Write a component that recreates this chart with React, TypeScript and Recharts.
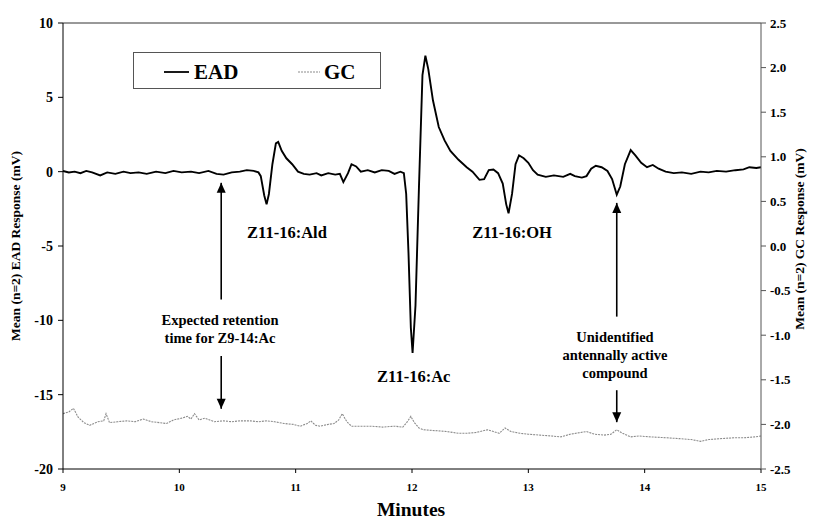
import React from 'react';
import { LineChart, Line, XAxis, YAxis, ReferenceLine, ReferenceDot, Label } from 'recharts';

const SERIF = '"Liberation Serif", "Times New Roman", serif';

// EAD trace (minutes, mV)
const eadMinutes = [
  9.0, 9.05, 9.1, 9.15, 9.2, 9.25, 9.32, 9.38, 9.45, 9.52, 9.58, 9.65, 9.72, 9.8, 9.88, 9.95,
  10.02, 10.1, 10.17, 10.25, 10.32, 10.38, 10.45, 10.52, 10.58, 10.64, 10.68, 10.7, 10.73, 10.75,
  10.77, 10.8, 10.83, 10.85, 10.88, 10.92, 10.97, 11.02, 11.07, 11.12, 11.18, 11.22, 11.28, 11.34,
  11.38, 11.41, 11.45, 11.48, 11.52, 11.56, 11.62, 11.68, 11.74, 11.8, 11.85, 11.9, 11.93, 11.95,
  11.97, 11.99, 12.005, 12.03, 12.06, 12.09, 12.115, 12.14, 12.18, 12.23, 12.28, 12.33, 12.4, 12.47,
  12.52, 12.58, 12.62, 12.66, 12.7, 12.74, 12.78, 12.81, 12.83, 12.86, 12.89, 12.92, 12.96, 13.0,
  13.04, 13.08, 13.15, 13.22, 13.3, 13.36, 13.4, 13.46, 13.5, 13.54, 13.58, 13.63, 13.68, 13.72,
  13.76, 13.79, 13.83, 13.88, 13.92, 13.97, 14.02, 14.07, 14.12, 14.18, 14.25, 14.32, 14.4, 14.48,
  14.55, 14.62, 14.7, 14.78, 14.85, 14.9, 14.96, 15.0,
];
const eadResponse = [
  0.05, -0.05, 0.0, -0.1, 0.05, -0.05, -0.25, -0.05, -0.15, 0.0, -0.1, -0.05, -0.15, 0.0, -0.1, 0.05,
  -0.05, 0.0, -0.1, 0.05, -0.15, -0.2, -0.05, 0.0, 0.1, 0.05, -0.05, -0.3, -1.6, -2.2,
  -1.5, 0.5, 1.9, 2.0, 1.4, 0.9, 0.5, 0.0, -0.15, -0.2, -0.1, -0.25, -0.1, -0.2,
  -0.15, -0.7, -0.1, 0.5, 0.35, 0.0, 0.1, -0.05, 0.1, 0.05, -0.15, 0.0, -0.1, -1.5,
  -5.5, -10.5, -12.2, -9.0, -1.0, 6.5, 7.8, 6.9, 4.8, 3.0, 2.1, 1.4, 0.8, 0.3,
  0.0, -0.55, -0.5, 0.1, 0.15, -0.1, -0.8, -2.2, -2.8, -1.5, 0.5, 1.1, 0.9, 0.6,
  0.1, -0.2, -0.35, -0.25, -0.35, -0.15, -0.3, -0.4, -0.3, 0.2, 0.4, 0.3, 0.05, -0.5,
  -1.55, -1.0, 0.5, 1.45, 1.1, 0.6, 0.3, 0.45, 0.2, 0.0, -0.1, -0.05, -0.15, 0.0,
  -0.05, 0.05, 0.0, 0.1, 0.15, 0.3, 0.25, 0.3,
];

// GC trace (minutes, mV)
const gcMinutes = [
  9.0, 9.05, 9.09, 9.13, 9.18, 9.23, 9.3, 9.35, 9.37, 9.4, 9.47, 9.55, 9.62, 9.69, 9.76, 9.83,
  9.89, 9.95, 10.02, 10.07, 10.1, 10.13, 10.17, 10.22, 10.3, 10.38, 10.45, 10.52, 10.61, 10.68,
  10.75, 10.82, 10.9, 10.98, 11.04, 11.1, 11.13, 11.17, 11.21, 11.28, 11.33, 11.37, 11.4, 11.44,
  11.48, 11.55, 11.65, 11.75, 11.85, 11.92, 11.96, 11.99, 12.02, 12.06, 12.1, 12.2, 12.3, 12.4,
  12.47, 12.55, 12.65, 12.7, 12.75, 12.8, 12.85, 12.93, 13.0, 13.1, 13.2, 13.28, 13.36, 13.45,
  13.5, 13.57, 13.65, 13.71, 13.76, 13.81, 13.88, 13.95, 14.05, 14.19, 14.3, 14.4, 14.48, 14.55,
  14.65, 14.77, 14.85, 14.95, 15.0,
];
const gcResponse = [
  -1.88, -1.86, -1.82, -1.92, -1.98, -2.01, -1.97, -1.96, -1.88, -1.98, -1.97, -1.96, -1.97, -1.94, -1.97, -1.98,
  -1.99, -1.95, -1.93, -1.91, -1.94, -1.88, -1.95, -1.93, -1.97, -1.96, -1.97, -1.96, -1.96, -1.97,
  -1.96, -1.97, -1.99, -2.0, -2.02, -1.99, -1.96, -2.01, -2.02, -2.0, -1.99, -1.95, -1.88, -1.97,
  -2.02, -2.02, -2.02, -2.03, -2.02, -2.03, -1.97, -1.91, -1.98, -2.04, -2.06, -2.07, -2.08, -2.1,
  -2.1, -2.09, -2.06, -2.08, -2.1, -2.04, -2.08, -2.1, -2.11, -2.12, -2.13, -2.14, -2.11, -2.09,
  -2.08, -2.11, -2.12, -2.11, -2.06, -2.1, -2.14, -2.13, -2.14, -2.15, -2.16, -2.17, -2.19, -2.17,
  -2.16, -2.15, -2.15, -2.14, -2.13,
];

const minuteTicks = [9, 10, 11, 12, 13, 14, 15];
const eadTicks = [-20, -15, -10, -5, 0, 5, 10];
const gcTicks = [-2.5, -2, -1.5, -1, -0.5, 0, 0.5, 1, 1.5, 2, 2.5];

// annotation texts, placed in (minutes, EAD mV)
const noteMinutes = [10.925, 12.86, 12.015, 10.35, 13.745];
const noteLevels = [-4.1, -4.1, -13.75, -10.6, -12.33];
const noteTexts = [
  ['Z11-16:Ald'],
  ['Z11-16:OH'],
  ['Z11-16:Ac'],
  ['Expected retention', 'time for Z9-14:Ac'],
  ['Unidentified', 'antennally active', 'compound'],
];
const noteSizes = [16.5, 16.5, 16.5, 14.5, 14.5];

// arrows: tail -> tip (EAD mV)
const arrowMinutes = [10.36, 10.36, 13.76, 13.76];
const arrowTails = [-8.6, -12.4, -9.75, -14.7];
const arrowTips = [-0.75, -15.95, -2.1, -16.85];

const eadData = eadMinutes.map((t, i) => ({ t, ead: eadResponse[i] }));
const gcData = gcMinutes.map((t, i) => ({ t, gc: gcResponse[i] }));

const tickStyle = { fontFamily: SERIF, fontWeight: 700, fill: '#000' };

const arrowHead = (up: boolean) => (p: any) => {
  const { cx, cy } = p;
  const d = up
    ? `M${cx},${cy} L${cx - 4.5},${cy + 10} L${cx + 4.5},${cy + 10} Z`
    : `M${cx},${cy} L${cx - 4.5},${cy - 10} L${cx + 4.5},${cy - 10} Z`;
  return <path d={d} fill="#000" />;
};

const noteShape = (lines: string[], size: number) => (p: any) => {
  const { cx, cy } = p;
  const lh = 18;
  const y0 = cy - ((lines.length - 1) * lh) / 2;
  return (
    <text textAnchor="middle" fontFamily={SERIF} fontWeight={700} fontSize={size} fill="#000">
      {lines.map((s, i) => (
        <tspan key={i} x={cx} y={y0 + i * lh} dominantBaseline="central">{s}</tspan>
      ))}
    </text>
  );
};

export default function App() {
  return (
    <div style={{ position: 'absolute', left: 0, top: 0, width: 814, height: 520, background: '#fff' }}>
      <LineChart width={814} height={520} margin={{ top: 23, right: 0, bottom: 0, left: 0 }}>
        <XAxis
          type="number"
          dataKey="t"
          domain={[9, 15]}
          ticks={minuteTicks}
          allowDataOverflow
          height={51}
          tick={{ ...tickStyle, fontSize: 11 }}
          tickSize={4}
          tickMargin={10}
          stroke="#000"
        >
          <Label
            content={() => (
              <text x={411} y={509} textAnchor="middle" dominantBaseline="central"
                fontFamily={SERIF} fontWeight={700} fontSize={19.5} fill="#000">Minutes</text>
            )}
          />
        </XAxis>
        <YAxis
          yAxisId="left"
          domain={[-20, 10]}
          ticks={eadTicks}
          width={63}
          tick={{ ...tickStyle, fontSize: 14 }}
          tickSize={5}
          tickMargin={5}
          stroke="#000"
        >
          <Label
            content={(p: any) => {
              const vb = p.viewBox;
              const x = vb.x + 15;
              const y = vb.y + vb.height / 2;
              return (
                <text x={x} y={y} transform={`rotate(-90 ${x} ${y})`} textAnchor="middle" dominantBaseline="central"
                  fontFamily={SERIF} fontWeight={700} fontSize={13.5} fill="#000">Mean (n=2) EAD Response (mV)</text>
              );
            }}
          />
        </YAxis>
        <YAxis
          yAxisId="right"
          orientation="right"
          domain={[-2.5, 2.5]}
          ticks={gcTicks}
          width={53}
          tick={{ ...tickStyle, fontSize: 13 }}
          tickFormatter={(v: number) => v.toFixed(1)}
          tickSize={5}
          tickMargin={4}
          stroke="#555"
        >
          <Label
            content={(p: any) => {
              const vb = p.viewBox;
              const x = vb.x + 38;
              const y = vb.y + vb.height / 2 - 7;
              return (
                <text x={x} y={y} transform={`rotate(-90 ${x} ${y})`} textAnchor="middle" dominantBaseline="central"
                  fontFamily={SERIF} fontWeight={700} fontSize={13.5} fill="#000">Mean (n=2) GC Response (mV)</text>
              );
            }}
          />
        </YAxis>

        <ReferenceLine yAxisId="left" y={10} stroke="#333" strokeWidth={1} />

        <Line
          yAxisId="right"
          data={gcData}
          dataKey="gc"
          type="linear"
          stroke="#8c8c8c"
          strokeWidth={1.1}
          strokeDasharray="2 1"
          dot={false}
          isAnimationActive={false}
        />
        <Line
          yAxisId="left"
          data={eadData}
          dataKey="ead"
          type="linear"
          stroke="#000"
          strokeWidth={1.9}
          dot={false}
          isAnimationActive={false}
        />

        {arrowMinutes.map((t, i) => (
          <ReferenceLine
            key={`al${i}`}
            yAxisId="left"
            segment={[{ x: t, y: arrowTails[i] }, { x: t, y: arrowTips[i] }]}
            stroke="#000"
            strokeWidth={1.6}
          />
        ))}
        {arrowMinutes.map((t, i) => (
          <ReferenceDot
            key={`ah${i}`}
            yAxisId="left"
            x={t}
            y={arrowTips[i]}
            shape={arrowHead(arrowTips[i] > arrowTails[i])}
          />
        ))}
        {noteMinutes.map((t, i) => (
          <ReferenceDot
            key={`n${i}`}
            yAxisId="left"
            x={t}
            y={noteLevels[i]}
            shape={noteShape(noteTexts[i], noteSizes[i])}
          />
        ))}
      </LineChart>

      {/* legend box */}
      <div
        style={{
          position: 'absolute', left: 133, top: 52, width: 248, height: 37,
          border: '1px solid #555', boxSizing: 'border-box',
        }}
      >
        <svg width={248} height={37} style={{ position: 'absolute', left: 0, top: 0 }}>
          <line x1={30} x2={55} y1={19} y2={19} stroke="#000" strokeWidth={1.8} />
          <text x={60} y={19} dominantBaseline="central" fontFamily={SERIF} fontWeight={700} fontSize={21}>EAD</text>
          <line x1={164} x2={186} y1={19} y2={19} stroke="#8c8c8c" strokeWidth={1.1} strokeDasharray="2 1" />
          <text x={190} y={19} dominantBaseline="central" fontFamily={SERIF} fontWeight={700} fontSize={21}>GC</text>
        </svg>
      </div>
    </div>
  );
}
